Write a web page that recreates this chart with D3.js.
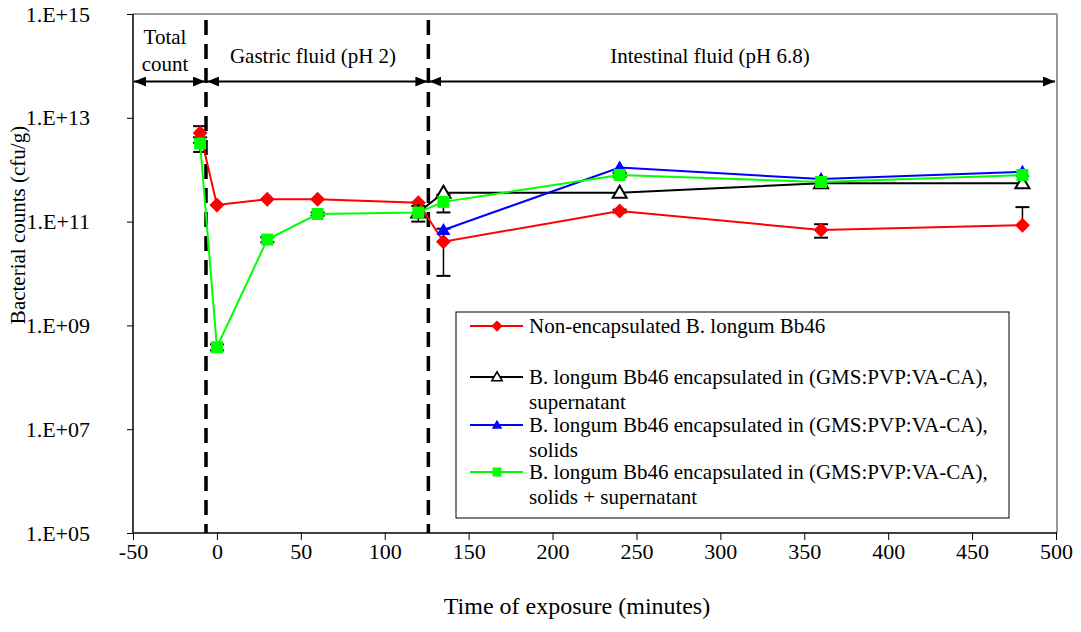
<!DOCTYPE html>
<html>
<head>
<meta charset="utf-8">
<script src="https://cdn.jsdelivr.net/npm/d3@7"></script>
<style>
  body { margin: 0; background: #fff; }
  svg text { font-family: 'Liberation Serif', 'Times New Roman', Tinos, 'DejaVu Serif', serif !important; }
</style>
</head>
<body>
<svg width="1081" height="632"></svg>
<script>
// data (cfu/g)
var redTimes   = [-10, 0, 30, 60, 120, 135, 240, 360, 480];
var redValues  = [5.1e12, 2.1e11, 2.7e11, 2.7e11, 2.3e11, 4.1e10, 1.6e11, 6.9e10, 8.5e10];
var redErr     = [1.8e12, 0, 0, 0, 0, 3.2e10, 1e10, 2.0e10, 1.05e11];

var blackTimes  = [120, 135, 240, 360, 480];
var blackValues = [1.5e11, 3.6e11, 3.6e11, 5.5e11, 5.5e11];
var blackErr    = [0, 0, 0, 0, 0];

var blueTimes  = [135, 240, 360, 480];
var blueValues = [6.9e10, 1.1e12, 6.6e11, 9.1e11];
var blueErr    = [0, 0, 0, 0];

var greenTimes  = [-10, 0, 30, 60, 120, 135, 240, 360, 480];
var greenValues = [3.2e12, 3.8e8, 4.5e10, 1.4e11, 1.5e11, 2.4e11, 7.9e11, 5.8e11, 7.9e11];
var greenErr    = [1.0e12, 0.5e8, 0.5e10, 1e10, 0.5e11, 0.9e11, 0.6e11, 0, 0];

var xTicks = [-50, 0, 50, 100, 150, 200, 250, 300, 350, 400, 450, 500];
var yTicks = [1e5, 1e7, 1e9, 1e11, 1e13, 1e15];

var phaseBounds = [-50, -6.5, 126, 500];
var phaseLevel = 5e13;
var phaseLabels = [["Total", "count"], ["Gastric fluid (pH 2)"], ["Intestinal fluid (pH 6.8)"]];

var legendLabels = [
  ["Non-encapsulated B. longum Bb46"],
  ["B. longum Bb46 encapsulated in (GMS:PVP:VA-CA),", "supernatant"],
  ["B. longum Bb46 encapsulated in (GMS:PVP:VA-CA),", "solids"],
  ["B. longum Bb46 encapsulated in (GMS:PVP:VA-CA),", "solids + supernatant"]
];

(function draw() {
  var series = [
    { t: redTimes, v: redValues, e: redErr, color: '#ff0000', marker: 'diamond' },
    { t: blackTimes, v: blackValues, e: blackErr, color: '#000000', marker: 'opentri' },
    { t: blueTimes, v: blueValues, e: blueErr, color: '#0000ff', marker: 'tri' },
    { t: greenTimes, v: greenValues, e: greenErr, color: '#00ff00', marker: 'square' }
  ];

  var svg = d3.select('svg');
  var left = 133, right = 1056, plotTop = 14, bottom = 533;

  var x = d3.scaleLinear().domain([-50, 500]).range([left, right]);
  var y = d3.scaleLog().domain([1e5, 1e15]).range([bottom, plotTop]);

  // frame
  svg.append('line').attr('x1', left).attr('x2', right + 1).attr('y1', plotTop).attr('y2', plotTop)
    .attr('stroke', '#999').attr('stroke-width', 2);
  svg.append('line').attr('x1', right + 1).attr('x2', right + 1).attr('y1', plotTop).attr('y2', bottom)
    .attr('stroke', '#999').attr('stroke-width', 2);

  // axes
  svg.append('g').attr('transform', 'translate(' + left + ',0)')
    .call(d3.axisLeft(y).tickValues(yTicks).tickSize(6).tickPadding(37)
      .tickFormat(function (d) { var p = Math.round(Math.log10(d)); return '1.E+' + (p < 10 ? '0' + p : p); }));
  svg.append('g').attr('transform', 'translate(0,' + bottom + ')')
    .call(d3.axisBottom(x).tickValues(xTicks).tickSize(7).tickPadding(3).tickFormat(function (d) { return String(d); }));
  svg.selectAll('.domain').remove();
  svg.selectAll('.tick line').attr('stroke', '#000');
  svg.selectAll('.tick text').attr('font-size', 22).attr('fill', '#000');
  svg.append('line').attr('x1', left).attr('x2', left).attr('y1', plotTop).attr('y2', bottom).attr('stroke', '#000').attr('stroke-width', 1.5);
  svg.append('line').attr('x1', left).attr('x2', right + 1).attr('y1', bottom).attr('y2', bottom).attr('stroke', '#000').attr('stroke-width', 1.5);

  svg.append('text').attr('x', 577).attr('y', 614).attr('text-anchor', 'middle')
    .attr('font-size', 24).text('Time of exposure (minutes)');
  svg.append('text').attr('transform', 'translate(25,225) rotate(-90)').attr('text-anchor', 'middle')
    .attr('font-size', 21).text('Bacterial counts (cfu/g)');

  // phase dividers and arrows
  svg.append('defs').append('marker').attr('id', 'arr').attr('viewBox', '0 0 12 10')
    .attr('refX', 12).attr('refY', 5).attr('markerWidth', 12).attr('markerHeight', 10)
    .attr('markerUnits', 'userSpaceOnUse').attr('orient', 'auto-start-reverse')
    .append('path').attr('d', 'M0,0 L12,5 L0,10 Z').attr('fill', '#000');

  svg.selectAll('line.divider').data(phaseBounds.slice(1, 3)).enter().append('line')
    .attr('class', 'divider')
    .attr('x1', function (d) { return x(d); }).attr('x2', function (d) { return x(d); })
    .attr('y1', plotTop + 6).attr('y2', bottom)
    .attr('stroke', '#000').attr('stroke-width', 3.5).attr('stroke-dasharray', '15,9');

  d3.range(3).forEach(function (i) {
    svg.append('line')
      .attr('x1', x(phaseBounds[i]) + 1).attr('x2', x(phaseBounds[i + 1]) - 1)
      .attr('y1', y(phaseLevel)).attr('y2', y(phaseLevel))
      .attr('stroke', '#000').attr('stroke-width', 2)
      .attr('marker-start', 'url(#arr)').attr('marker-end', 'url(#arr)');
  });

  var labelX = [165, 313, 710];
  phaseLabels.forEach(function (lines, i) {
    lines.forEach(function (s, k) {
      var yy = lines.length > 1 ? 44 + k * 27 : 63;
      svg.append('text').attr('x', labelX[i]).attr('y', yy).attr('text-anchor', 'middle')
        .attr('font-size', 21).text(s);
    });
  });

  // markers
  function markerPath(type, r) {
    if (type === 'diamond') return 'M0,' + (-r) + 'L' + r + ',0L0,' + r + 'L' + (-r) + ',0Z';
    if (type === 'square') return 'M-6,-6h12v12h-12Z';
    return 'M0,-7L7,5L-7,5Z';
  }
  function drawMarker(g, type, color, cx, cy, k) {
    g.append('path').attr('transform', 'translate(' + cx + ',' + cy + ') scale(' + (k || 1) + ')')
      .attr('d', markerPath(type, 7.5))
      .attr('fill', type === 'opentri' ? '#fff' : color)
      .attr('stroke', type === 'opentri' ? '#000' : 'none')
      .attr('stroke-width', 2);
  }

  var line = d3.line().x(function (d) { return x(d[0]); }).y(function (d) { return y(d[1]); });

  // error bars beneath the series
  var errG = svg.append('g');
  series.forEach(function (s) {
    s.t.forEach(function (t, i) {
      var e = s.e[i];
      if (!e) return;
      var cx = x(t), cy = y(s.v[i]);
      var hi = y(s.v[i] + e);
      var lo = s.v[i] - e > 0 ? y(s.v[i] - e) : cy;
      errG.append('line').attr('x1', cx).attr('x2', cx).attr('y1', hi).attr('y2', lo).attr('stroke', '#000').attr('stroke-width', 1.5);
      errG.append('line').attr('x1', cx - 7).attr('x2', cx + 7).attr('y1', hi).attr('y2', hi).attr('stroke', '#000').attr('stroke-width', 2);
      if (lo !== cy) errG.append('line').attr('x1', cx - 7).attr('x2', cx + 7).attr('y1', lo).attr('y2', lo).attr('stroke', '#000').attr('stroke-width', 2);
    });
  });

  series.forEach(function (s) {
    var g = svg.append('g');
    var pts = s.t.map(function (t, i) { return [t, s.v[i]]; });
    g.append('path').attr('d', line(pts)).attr('fill', 'none').attr('stroke', s.color).attr('stroke-width', 2);
    pts.forEach(function (p) { drawMarker(g, s.marker, s.color, x(p[0]), y(p[1])); });
  });

  // legend
  var lg = svg.append('g');
  lg.append('rect').attr('x', 456).attr('y', 312).attr('width', 553).attr('height', 206)
    .attr('fill', '#fff').attr('stroke', '#000').attr('stroke-width', 1);
  var rowY = [326, 377, 425, 472];
  legendLabels.forEach(function (lines, i) {
    var s = series[i];
    lg.append('line').attr('x1', 470).attr('x2', 523).attr('y1', rowY[i]).attr('y2', rowY[i])
      .attr('stroke', s.color).attr('stroke-width', 2);
    drawMarker(lg, s.marker, s.color, 497, rowY[i], 0.75);
    lines.forEach(function (txt, k) {
      lg.append('text').attr('x', 529).attr('y', rowY[i] + 7 + k * 25).attr('font-size', 21).text(txt);
    });
  });
})();
</script>
</body>
</html>
